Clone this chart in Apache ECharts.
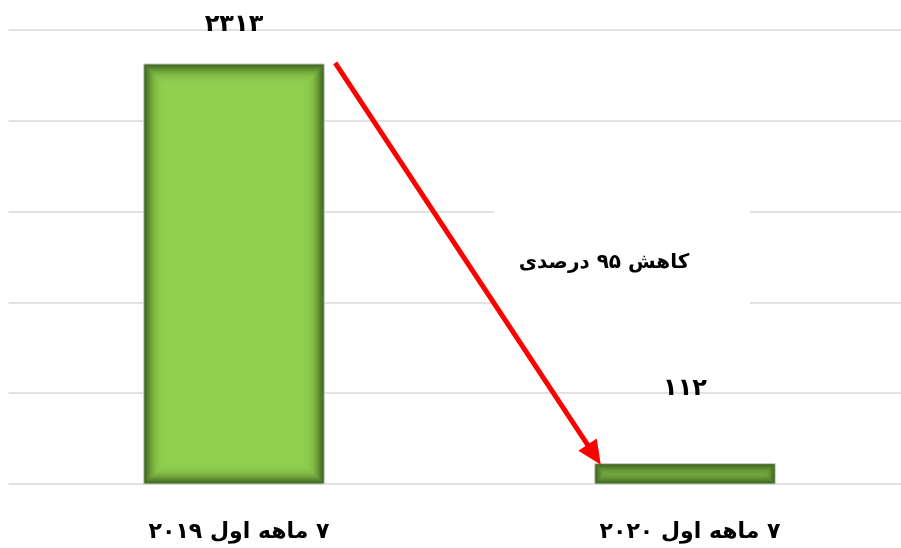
<!DOCTYPE html>
<html>
<head>
<meta charset="utf-8">
<script src="https://cdn.jsdelivr.net/npm/echarts@6/dist/echarts.min.js"></script>
<style>
html,body{margin:0;padding:0;background:#fff;}
#main{width:901px;height:548px;}
</style>
</head>
<body>
<div id="main"></div>
<script>
// ---- data ----
const categories = ['۷ ماهه اول ۲۰۱۹', '۷ ماهه اول ۲۰۲۰'];
const values = [2313, 112];
const yTicks = [0, 500, 1000, 1500, 2000, 2500];
const annotationText = 'کاهش ۹۵ درصدی';

// ---- layout / style constants ----
const labelGaps = [39, 75];
const FONT = "'DejaVu Sans', sans-serif";
const RLM = '\u200F';
const DARK = [66, 107, 34];
const LIGHT = [146, 208, 80];

function toFa(n) {
  return String(n).replace(/[0-9]/g, d => '۰۱۲۳۴۵۶۷۸۹'[+d]);
}
function shade(d) { return Math.exp(-Math.pow(Math.max(d, 0) / 8, 1.5)); }
function mix(f) {
  const c = LIGHT.map((l, i) => Math.round(l + (DARK[i] - l) * f));
  return 'rgb(' + c.join(',') + ')';
}

const chart = echarts.init(document.getElementById('main'), null, {renderer: 'canvas'});

const option = {
  backgroundColor: '#ffffff',
  animation: false,
  grid: {left: 8.5, width: 902, top: 30, bottom: 64, containLabel: false, outerBoundsMode: 'none'},
  xAxis: {
    type: 'category',
    data: categories,
    axisLine: {show: false},
    axisTick: {show: false},
    axisLabel: {
      margin: 37,
      fontFamily: FONT,
      fontSize: 22,
      fontWeight: 'bold',
      color: '#000',
      padding: [0, 0, 0, 10],
      formatter: v => RLM + v
    }
  },
  yAxis: {
    type: 'value',
    min: yTicks[0],
    max: yTicks[yTicks.length - 1],
    interval: yTicks[1] - yTicks[0],
    axisLabel: {show: false},
    axisLine: {show: false},
    axisTick: {show: false},
    splitLine: {lineStyle: {color: '#d9d9d9', width: 1.5}}
  },
  series: [{
    type: 'custom',
    data: values.map((v, i) => [i, v]),
    renderItem: function (params, api) {
      const idx = api.value(0);
      const v = api.value(1);
      const top = api.coord([idx, v]);
      const base = api.coord([idx, 0]);
      const bw = api.size([1, 0])[0] * 0.4;
      const x = top[0] - bw / 2;
      const y = top[1];
      const h = base[1] - top[1];
      const children = [
        {type: 'rect', shape: {x: x, y: y, width: bw, height: h},
         style: {fill: mix(1), stroke: '#c8c8c8', lineWidth: 1}}
      ];
      for (let k = 1; k < 22; k++) {
        const ih = h - 2 * k, iw = bw - 2 * k;
        if (ih <= 0 || iw <= 0) break;
        const f = 1 - (1 - shade(k)) * (1 - shade(h - k)) * (1 - shade(bw - k));
        children.push({type: 'rect', shape: {x: x + k, y: y + k, width: iw, height: ih},
                       style: {fill: mix(f)}});
      }
      children.push({type: 'text', style: {
        text: toFa(v), x: top[0], y: y - labelGaps[params.dataIndex],
        align: 'center', verticalAlign: 'middle',
        font: 'bold 24px ' + FONT, fill: '#000'
      }});
      return {type: 'group', children: children};
    }
  }]
};
chart.setOption(option);

// ---- arrow annotation, positioned from the data scale ----
function drawAnnotation() {
  const c0 = chart.convertToPixel({gridIndex: 0}, [0, values[0]]);
  const c1 = chart.convertToPixel({gridIndex: 0}, [1, values[1]]);
  const bandW = (c1[0] - c0[0]);
  const bw = bandW * 0.4;
  const sx = c0[0] + bw / 2 + 11, sy = c0[1] - 1;
  const ex = c1[0] - bw / 2 + 6, ey = c1[1] + 1;
  const ang = Math.atan2(ey - sy, ex - sx);
  const headLen = 24, headHalf = 11;
  const bx = ex - headLen * Math.cos(ang), by = ey - headLen * Math.sin(ang);
  const px = -Math.sin(ang), py = Math.cos(ang);
  const mx = (sx + ex) / 2, my = (sy + ey) / 2;
  chart.setOption({
    graphic: [
      {type: 'rect', shape: {x: mx + 26, y: my - 58, width: 256, height: 110},
       style: {fill: '#ffffff'}, z: 5},
      {type: 'text', x: mx + 136, y: my - 1, z: 6,
       style: {text: RLM + annotationText, align: 'center', verticalAlign: 'middle',
               font: 'bold 20px ' + FONT, fill: '#000'}},
      {type: 'line', z: 7, shape: {x1: sx, y1: sy, x2: bx + 2 * Math.cos(ang), y2: by + 2 * Math.sin(ang)},
       style: {stroke: '#ff0000', lineWidth: 5}},
      {type: 'polygon', z: 7, shape: {points: [[ex, ey], [bx + px * headHalf, by + py * headHalf], [bx - px * headHalf, by - py * headHalf]]},
       style: {fill: '#ff0000'}}
    ]
  });
}
drawAnnotation();
</script>
</body>
</html>
